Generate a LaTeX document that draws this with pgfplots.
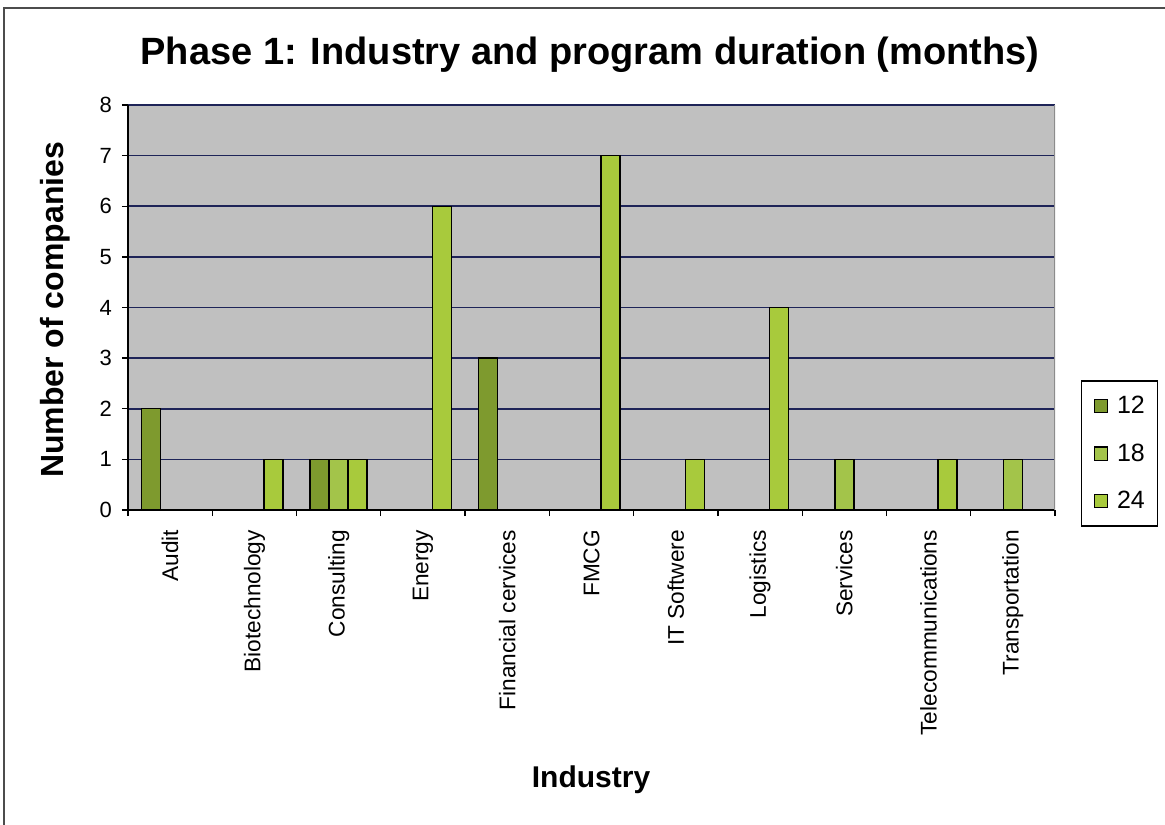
\documentclass[border=0pt]{standalone}
\usepackage{pgfplots}
\pgfplotsset{compat=1.18}
\usepackage{fontspec}
\setmainfont{Liberation Sans}
\definecolor{cA}{HTML}{7E9A2E}
\definecolor{cB}{HTML}{A3C44A}
\definecolor{cC}{HTML}{A8CA3C}
\definecolor{gridc}{HTML}{1E2458}
\definecolor{plotbg}{HTML}{C0C0C0}
\pgfplotsset{
  sq legend/.style={legend image code/.code={\draw[##1,draw=black,line width=0.8pt] (0pt,-4.9pt) rectangle (9.75pt,4.9pt);}},
}
\begin{document}
\begin{tikzpicture}
\path[use as bounding box] (0,0) rectangle (873.75pt,-618.75pt);
\draw[color=black!70, line width=1.2pt] (3pt,-640pt) -- (3pt,-6pt) -- (890pt,-6pt);
\node[font=\fontsize{28.5}{34}\selectfont\bfseries] at (442.5pt,-41.25pt) {Phase 1: Industry and program duration (months)};
\begin{axis}[
  at={(96pt,-382.5pt)}, anchor=south west,
  scale only axis, width=695.25pt, height=303.75pt,
  ybar=0pt, bar width=14.25pt,
  xmin=-0.5, xmax=10.5, ymin=0, ymax=8,
  ytick={0,...,8},
  xtick={0,...,10},
  xticklabels={Audit,Biotechnology,Consulting,Energy,Financial cervices,FMCG,IT Softwere,Logistics,Services,Telecommunications,Transportation},
  minor xtick={-0.5,0.5,...,10.5},
  axis x line*=bottom, axis y line*=left,
  axis line style={black, line width=1.2pt, -},
  tick align=outside,
  major tick length=4.5pt,
  minor tick length=4.5pt,
  tick style={black, line width=1pt},
  every major x tick/.append style={draw=none},
  ymajorgrids, grid style={gridc, line width=1.2pt},
  axis background/.style={fill=plotbg},
  /pgf/number format/assume math mode=true,
  yticklabel style={font=\fontsize{16.5}{18}\selectfont, xshift=-4pt},
  xticklabel style={yshift=-7pt, rotate=90, anchor=east, font=\fontsize{17}{18}\selectfont},
  xlabel={Industry},
  ylabel={Number of companies},
  xlabel style={font=\fontsize{22.5}{26}\selectfont\bfseries, at={(axis description cs:0.4995,-0.667)}, anchor=center},
  ylabel style={font=\fontsize{24}{28}\selectfont\bfseries, at={(axis description cs:-0.078,0.494)}, anchor=center, rotate=0},
  legend style={at={(axis description cs:1.028,0.1395)}, anchor=west, draw=black, line width=1pt,
    font=\fontsize{18.75}{20}\selectfont, row sep=21pt, column sep=6.5pt,
    nodes={inner sep=0pt}, inner xsep=9.5pt, inner ysep=11.5pt},
  legend cell align=left,
]
\addplot[fill=cA, draw=black, line width=1.1pt, sq legend] coordinates {(0,2) (2,1) (4,3)};
\addplot[fill=cB, draw=black, line width=1.1pt, sq legend] coordinates {(2,1) (8,1) (10,1)};
\addplot[fill=cC, draw=black, line width=1.1pt, sq legend] coordinates {(1,1) (2,1) (3,6) (5,7) (6,1) (7,4) (9,1)};
\legend{12,18,24}
\draw[black!45, line width=1pt] (rel axis cs:1,0) -- (rel axis cs:1,1);
\end{axis}
\end{tikzpicture}
\end{document}
